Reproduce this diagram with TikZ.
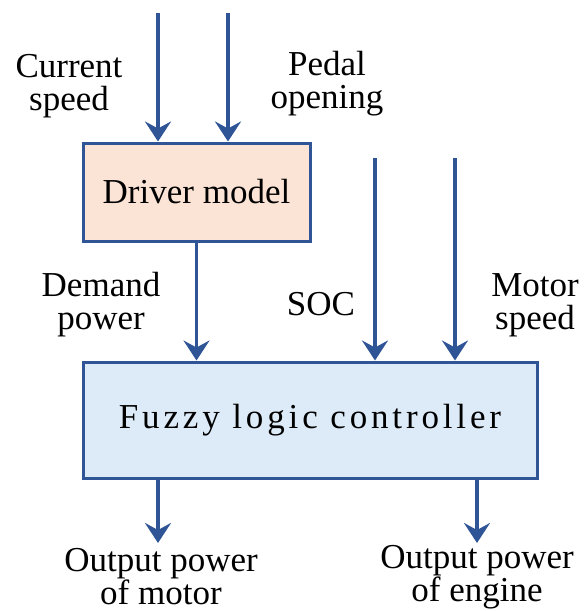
\documentclass[tikz,border=0pt]{standalone}
\usepackage{fontspec}
\setmainfont{Liberation Serif}
\usetikzlibrary{arrows.meta, positioning, calc}

\definecolor{edgeblue}{RGB}{47,85,151}
\definecolor{peach}{RGB}{251,228,214}
\definecolor{paleblue}{RGB}{221,234,247}

\begin{document}
\begin{tikzpicture}[
    x=0.5pt, y=-0.5pt,
    block/.style={rectangle, draw=edgeblue, line width=1.5pt, text centered, inner sep=0pt, font=\fontsize{17.5}{16.5}\selectfont},
    txt/.style={align=center, inner sep=0pt, font=\fontsize{17.5}{16.5}\selectfont},
    line/.style={draw=edgeblue, line width=1.6pt, -{Stealth[length=10pt, width=13pt, inset=3.5pt]}}
]
\useasboundingbox (0,0) rectangle (584,611);

\node [block, fill=peach, minimum width=113.5pt, minimum height=49pt] (driver) at (196.5,192) {Driver model};
\node [block, fill=paleblue, minimum width=227pt, minimum height=58pt] (flc) at (310,420) {\addfontfeature{LetterSpace=11}Fuzzy logic controller};

% free ends of the signals
\coordinate (speedin) at (158,13);
\coordinate (pedalin) at (228,13);
\coordinate (socin) at (375,158);
\coordinate (rpmin) at (455,158);
\coordinate (motorout) at (158,543);
\coordinate (engineout) at (477,543);

\node [txt] (speed) at (69,86) {Current\\speed};
\node [txt] (pedal) at (327,84) {Pedal\\opening};
\node [txt] (demand) at (101,305) {Demand\\power};
\node [txt] (soc) at (321,304) {SOC};
\node [txt] (rpm) at (535,305) {Motor\\speed};
\node [txt] (pmotor) at (161,577) {Output power\\of motor};
\node [txt] (pengine) at (477,577) {Output power\\of engine};

\path [line] (speedin) -- (speedin |- driver.north);
\path [line] (pedalin) -- (pedalin |- driver.north);
\path [line] (driver.south) -- (driver.south |- flc.north);
\path [line] (socin) -- (socin |- flc.north);
\path [line] (rpmin) -- (rpmin |- flc.north);
\path [line] (flc.south -| motorout) -- (motorout);
\path [line] (flc.south -| engineout) -- (engineout);
\end{tikzpicture}
\end{document}
